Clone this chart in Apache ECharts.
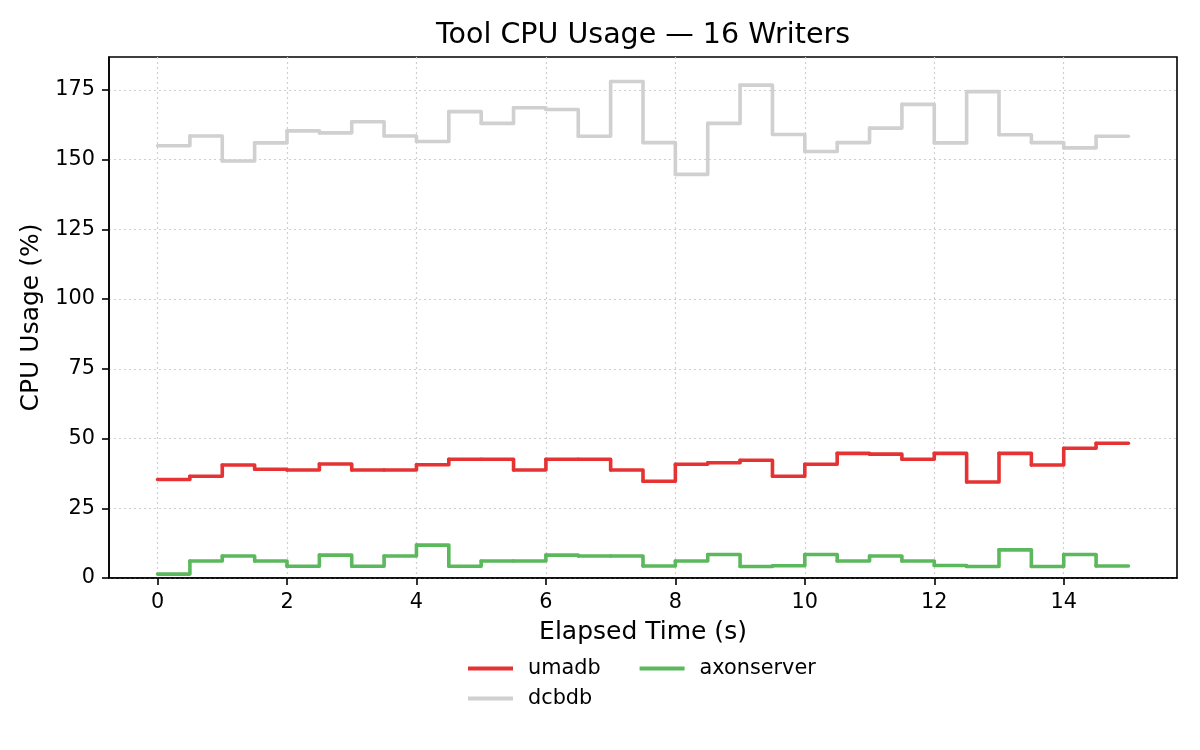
<!DOCTYPE html>
<html>
<head>
<meta charset="utf-8">
<script src="https://cdn.jsdelivr.net/npm/echarts@6/dist/echarts.min.js"></script>
<style>
html,body{margin:0;padding:0;background:#fff;}
#chart{width:1200px;height:750px;}
</style>
</head>
<body>
<div id="chart"></div>
<script>
const times = [0,0.5,1,1.5,2,2.5,3,3.5,4,4.5,5,5.5,6,6.5,7,7.5,8,8.5,9,9.5,10,10.5,11,11.5,12,12.5,13,13.5,14,14.5,15];
const umadb = [35.3,36.5,40.5,39,38.7,40.9,38.7,38.7,40.6,42.6,42.6,38.7,42.6,42.6,38.7,34.7,40.8,41.3,42.2,36.5,40.8,44.7,44.4,42.6,44.7,34.4,44.7,40.5,46.5,48.3,48.3];
const dcbdb = [155,158.5,149.5,156,160.3,159.6,163.6,158.5,156.5,167.2,163,168.6,168,158.4,178,156.1,144.7,163,176.7,159,152.9,156.1,161.3,169.8,156,174.4,158.9,156.1,154.2,158.4,158.4];
const axonserver = [1.4,6.1,7.9,6.1,4.2,8.2,4.2,7.9,11.8,4.2,6.1,6.1,8.2,7.9,7.9,4.3,6.1,8.4,4.1,4.4,8.4,6.1,7.9,6.1,4.5,4.1,10.1,4.1,8.4,4.3,4.3];
const xTicks = [0,2,4,6,8,10,12,14];
const yTicks = [0,25,50,75,100,125,150,175];

const FONT = 'DejaVu Sans';
// step ("post") segments: [t_i, y_i, t_next, y_next]
const stepData = arr => times.slice(0, -1).map((t, i) => [t, arr[i], times[i + 1], arr[i + 1]]);
function stepRender(color) {
  return function (params, api) {
    const p0 = api.coord([api.value(0), api.value(1)]);
    const p1 = api.coord([api.value(2), api.value(1)]);
    const p2 = api.coord([api.value(2), api.value(3)]);
    return {
      type: 'polyline',
      shape: {points: [p0, p1, p2]},
      style: {stroke: color, lineWidth: 3.6, fill: null, lineJoin: 'round', lineCap: 'round'}
    };
  };
}
function stepSeries(name, arr, color) {
  return {
    name: name, type: 'custom', data: stepData(arr),
    encode: {x: [0, 2], y: [1, 3]},
    renderItem: stepRender(color),
    itemStyle: {color: color},
    z: 3, silent: true
  };
}
const chart = echarts.init(document.getElementById('chart'), null, {renderer:'canvas'});
const axisCommon = {
  axisLine:{show:true, onZero:false, lineStyle:{color:'#000', width:1.6}},
  axisTick:{show:true, length:7, lineStyle:{color:'#000', width:1.6}},
  splitLine:{show:true, lineStyle:{color:'#cfcfcf', width:1.2, type:[2,3]}}
};
chart.setOption({
  animation:false,
  backgroundColor:'#fff',
  title:{
    text:'Tool CPU Usage — 16 Writers',
    left:643, top:21, padding:0, textAlign:'center',
    textStyle:{fontFamily:FONT, fontSize:28.5, fontWeight:'normal', color:'#000'}
  },
  grid:{left:109, right:23, top:57, bottom:172, show:true, borderColor:'#000', borderWidth:1.6, backgroundColor:'transparent'},
  xAxis:{
    type:'value', min:-0.75, max:15.75,
    name:'Elapsed Time (s)', nameLocation:'middle', nameGap:42,
    nameTextStyle:{fontFamily:FONT, fontSize:25, color:'#000'},
    axisLine:axisCommon.axisLine,
    axisTick:Object.assign({customValues:xTicks}, axisCommon.axisTick),
    axisLabel:{customValues:xTicks, fontFamily:FONT, fontSize:20.8, color:'#000', margin:14},
    splitLine:axisCommon.splitLine
  },
  yAxis:{
    type:'value', min:0, max:186.8,
    name:'CPU Usage (%)', nameLocation:'middle', nameGap:63,
    nameTextStyle:{fontFamily:FONT, fontSize:25, color:'#000'},
    axisLine:axisCommon.axisLine,
    axisTick:Object.assign({customValues:yTicks}, axisCommon.axisTick),
    axisLabel:{customValues:yTicks, fontFamily:FONT, fontSize:20.8, color:'#000', margin:14},
    splitLine:axisCommon.splitLine
  },
  legend:[
    {data:['umadb','axonserver'], left:468, top:658, orient:'horizontal', itemGap:39, itemWidth:45, itemHeight:4, icon:'rect', padding:0,
     textStyle:{fontFamily:FONT, fontSize:20.8, color:'#000', padding:[0,0,0,10]}},
    {data:['dcbdb'], left:468, top:688, orient:'horizontal', itemWidth:45, itemHeight:4, icon:'rect', padding:0,
     textStyle:{fontFamily:FONT, fontSize:20.8, color:'#000', padding:[0,0,0,10]}}
  ],
  series:[
    stepSeries('umadb', umadb, '#e53333'),
    stepSeries('dcbdb', dcbdb, '#d0d0d0'),
    stepSeries('axonserver', axonserver, '#5cb85c')
  ]
});
</script>
</body>
</html>
